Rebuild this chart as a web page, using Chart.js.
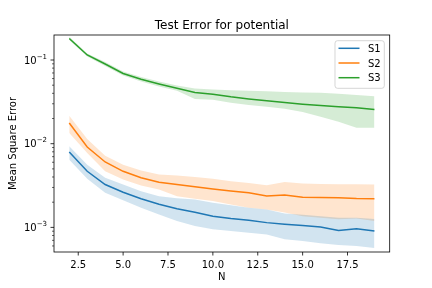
<!DOCTYPE html>
<html>
<head>
<meta charset="utf-8">
<script src="https://cdn.jsdelivr.net/npm/chart.js@4/dist/chart.umd.min.js"></script>
<style>
  html, body { margin:0; padding:0; background:#fff; }
  canvas { display:block; }
</style>
</head>
<body>
<canvas id="errChart" width="432" height="288"></canvas>
<script>
var nVals = [2,3,4,5,6,7,8,9,10,11,12,13,14,15,16,17,18,19];

var s1Mean = [0.00796,0.00468,0.00325,0.00263,0.0022,0.00189,0.00167,0.00152,0.00136,0.00128,0.00122,0.00114,0.00109,0.00105,0.00101,0.00092,0.000965,0.000904];
var s1Hi   = [0.00929,0.00562,0.00391,0.00325,0.0027,0.00236,0.00223,0.00215,0.00197,0.00184,0.00172,0.00164,0.00147,0.00142,0.00136,0.0013,0.0013,0.00126];
var s1Lo   = [0.00645,0.0038,0.00259,0.00211,0.00172,0.00143,0.00119,0.00104,0.000947,0.000904,0.000865,0.000825,0.00072,0.000687,0.000645,0.000616,0.000599,0.000567];

var s2Mean = [0.01764,0.00913,0.00605,0.00468,0.00391,0.00346,0.00325,0.00305,0.00287,0.00273,0.00259,0.00237,0.00244,0.00229,0.00228,0.00226,0.00221,0.0022];
var s2Hi   = [0.02154,0.01138,0.0072,0.00562,0.00477,0.00428,0.00416,0.00401,0.0038,0.00356,0.0034,0.00319,0.00348,0.00334,0.00331,0.00328,0.00328,0.00325];
var s2Lo   = [0.01341,0.00775,0.00468,0.00373,0.00316,0.00283,0.00236,0.0022,0.00206,0.00188,0.00172,0.00164,0.00151,0.00136,0.0013,0.00125,0.00128,0.00119];

var s3Mean = [0.181,0.115,0.0896,0.0691,0.0589,0.0518,0.046,0.0408,0.0391,0.0363,0.0343,0.0325,0.031,0.0297,0.0286,0.0276,0.0268,0.0256];
var s3Hi   = [0.19,0.12,0.0947,0.073,0.0627,0.0555,0.0497,0.0458,0.0445,0.0434,0.0428,0.0422,0.0416,0.041,0.0405,0.0394,0.0383,0.0368];
var s3Lo   = [0.173,0.11,0.0848,0.0654,0.0555,0.0484,0.0428,0.0343,0.0334,0.0308,0.0291,0.0276,0.0261,0.024,0.021,0.0183,0.0155,0.0155];

var seriesNames = ['S1','S2','S3'];
var xTicks = [2.5,5,7.5,10,12.5,15,17.5];
var yMajor = [1e-3,1e-2,1e-1];
var yMajorLabels = [['10','\u22123'],['10','\u22122'],['10','\u22121']];
var titleText = 'Test Error for potential';
var xTitle = 'N';
var yTitle = 'Mean Square Error';

var colors = ['#1f77b4','#ff7f0e','#2ca02c'];
var FONT = '"DejaVu Sans", "Liberation Sans", sans-serif';

function hexToRgba(hex, alpha) {
    var r = parseInt(hex.slice(1,3),16),
        g = parseInt(hex.slice(3,5),16),
        b = parseInt(hex.slice(5,7),16);
    return 'rgba('+r+','+g+','+b+','+alpha+')';
}

function pts(ys) {
    return nVals.map(function(n,i){ return {x:n, y:ys[i]}; });
}

var means = [s1Mean,s2Mean,s3Mean], his = [s1Hi,s2Hi,s3Hi], los = [s1Lo,s2Lo,s3Lo];
var datasets = [];
for (var i=0;i<3;i++) {
    datasets.push({ label:seriesNames[i]+' lo', data:pts(los[i]), borderWidth:0, pointRadius:0, fill:false, order:10 });
    datasets.push({ label:seriesNames[i]+' hi', data:pts(his[i]), borderWidth:0, pointRadius:0,
        fill:'-1', backgroundColor:hexToRgba(colors[i],0.2), order:10 });
}
for (var j=0;j<3;j++) {
    datasets.push({ label:seriesNames[j], data:pts(means[j]), borderColor:colors[j], borderWidth:1.5,
        pointRadius:0, fill:false, tension:0, order:1 });
}

var decor = {
    id:'decor',
    afterDraw: function(chart) {
        var ctx = chart.ctx, a = chart.chartArea, xs = chart.scales.x, ys = chart.scales.y;
        ctx.save();
        ctx.strokeStyle = '#000'; ctx.fillStyle = '#000';

        // frame
        ctx.lineWidth = 0.8;
        ctx.strokeRect(a.left, a.top, a.right-a.left, a.bottom-a.top);

        // x tick marks
        xTicks.forEach(function(v){
            var px = xs.getPixelForValue(v);
            ctx.beginPath(); ctx.moveTo(px, a.bottom); ctx.lineTo(px, a.bottom+3.5); ctx.stroke();
        });

        // y minor tick marks
        ctx.lineWidth = 0.6;
        for (var k=-4;k<=0;k++) {
            for (var m=2;m<=9;m++) {
                var v = m*Math.pow(10,k);
                if (v < ys.min || v > ys.max) continue;
                var py = ys.getPixelForValue(v);
                ctx.beginPath(); ctx.moveTo(a.left-2, py); ctx.lineTo(a.left, py); ctx.stroke();
            }
        }
        // y major tick marks + labels
        ctx.lineWidth = 0.8;
        ctx.textAlign = 'right'; ctx.textBaseline = 'alphabetic';
        yMajor.forEach(function(v,i){
            var py = ys.getPixelForValue(v);
            ctx.beginPath(); ctx.moveTo(a.left-3.5, py); ctx.lineTo(a.left, py); ctx.stroke();
            var rx = a.left-7;
            ctx.font = '7px '+FONT;
            var sw = ctx.measureText(yMajorLabels[i][1]).width;
            ctx.fillText(yMajorLabels[i][1], rx, py-1.5);
            ctx.font = '10px '+FONT;
            ctx.fillText(yMajorLabels[i][0], rx-sw, py+3.8);
        });

        // title and axis titles
        ctx.textAlign = 'center';
        ctx.font = '12px '+FONT;
        ctx.fillText(titleText, (a.left+a.right)/2, a.top-6);
        ctx.font = '10px '+FONT;
        ctx.fillText(xTitle, (a.left+a.right)/2, 280);
        ctx.save();
        ctx.translate(15.5, (a.top+a.bottom)/2);
        ctx.rotate(-Math.PI/2);
        ctx.fillText(yTitle, 0, 0);
        ctx.restore();

        // legend
        var lx = a.right-54.7, ly = a.top+5.7, lw = 49.3, lh = 47.6, r = 2.5;
        ctx.beginPath();
        ctx.moveTo(lx+r, ly); ctx.lineTo(lx+lw-r, ly); ctx.arcTo(lx+lw, ly, lx+lw, ly+r, r);
        ctx.lineTo(lx+lw, ly+lh-r); ctx.arcTo(lx+lw, ly+lh, lx+lw-r, ly+lh, r);
        ctx.lineTo(lx+r, ly+lh); ctx.arcTo(lx, ly+lh, lx, ly+lh-r, r);
        ctx.lineTo(lx, ly+r); ctx.arcTo(lx, ly, lx+r, ly, r);
        ctx.closePath();
        ctx.fillStyle = 'rgba(255,255,255,0.8)'; ctx.fill();
        ctx.strokeStyle = 'rgba(204,204,204,0.8)'; ctx.lineWidth = 1; ctx.stroke();
        ctx.textAlign = 'left';
        seriesNames.forEach(function(name,i){
            var ry = ly+7.6+i*14.7;
            ctx.strokeStyle = colors[i]; ctx.lineWidth = 1.5;
            ctx.beginPath(); ctx.moveTo(lx+3.5, ry); ctx.lineTo(lx+24.5, ry); ctx.stroke();
            ctx.fillStyle = '#000';
            ctx.fillText(name, lx+33, ry+3.6);
        });
        ctx.restore();
    }
};

new Chart(document.getElementById('errChart'), {
    type:'line',
    data:{ datasets: datasets },
    options:{
        responsive:false, animation:false, devicePixelRatio:1,
        layout:{ padding:{ left:0, right:42.3, top:35, bottom:0 } },
        plugins:{ legend:{display:false}, title:{display:false}, tooltip:{enabled:false} },
        scales:{
            x:{ type:'linear', min:1.15, max:19.85,
                grid:{display:false, drawTicks:false}, border:{display:false},
                afterBuildTicks:function(s){ s.ticks = xTicks.map(function(v){ return {value:v}; }); },
                afterFit:function(s){ s.height = 36; },
                ticks:{ padding:7, maxRotation:0, color:'#000', font:{size:10, family:FONT},
                        callback:function(v){ return v.toFixed(1); } } },
            y:{ type:'logarithmic', min:5.08e-4, max:0.199,
                grid:{display:false, drawTicks:false}, border:{display:false},
                ticks:{ display:false },
                afterFit:function(s){ s.width = 54; } }
        }
    },
    plugins:[decor]
});
</script>
</body>
</html>
